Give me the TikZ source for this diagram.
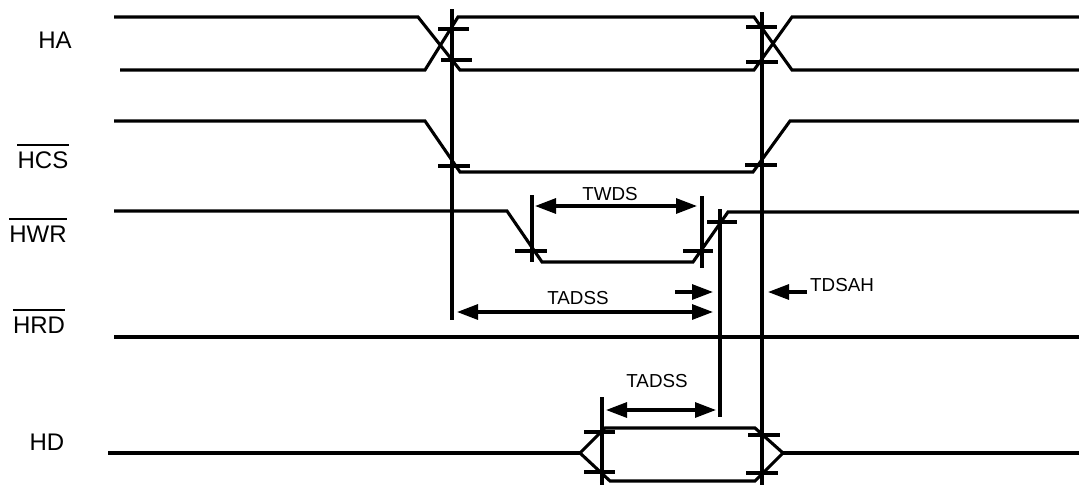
\documentclass[tikz,border=0pt]{standalone}
\usepackage{fontspec}
\setmainfont{Liberation Sans}
\usetikzlibrary{arrows.meta}
\begin{document}
\begin{tikzpicture}[x=1pt,y=-1pt,
  sig/.style={line width=3.1pt, line join=miter},
  tk/.style={line width=3.1pt},
  dimboth/.style={line width=3.1pt, {Triangle[length=21pt,width=15pt]}-{Triangle[length=21pt,width=15pt]}},
  dimone/.style={line width=3.1pt, -{Triangle[length=21pt,width=15pt]}},
  lbl/.style={font=\fontsize{24}{28}\selectfont, inner sep=0pt},
  tlbl/.style={font=\fontsize{18.8}{22}\selectfont, inner sep=0pt},
  ovl/.style={line width=2pt}
]
\useasboundingbox (0,0) rectangle (1079,485);

% signal names
\node[lbl] (ha) at (55,40) {HA};
\node[lbl] (hcs) at (43,160) {HCS};
\node[lbl] (hwr) at (38,234) {HWR};
\node[lbl] (hrd) at (39,325) {HRD};
\node[lbl] (hd) at (47,442) {HD};
\foreach \n in {hcs,hwr,hrd}
  \draw[ovl] ([yshift=6.5pt]\n.north west) -- ([yshift=6.5pt]\n.north east);

% HA
\draw[sig] (114,17) -- (418,17) -- (460,70) -- (754,70) -- (792,17) -- (1079,17);
\draw[sig] (120,70) -- (425,70) -- (458,17) -- (754,17) -- (792,70) -- (1079,70);
% HCS
\draw[sig] (114,121) -- (425,121) -- (460,172) -- (753,172) -- (790,121) -- (1079,121);
% HWR
\draw[sig] (114,211) -- (507,211) -- (542,262) -- (693,262) -- (728,212) -- (1079,212);
% HRD
\draw[sig] (114,337) -- (1079,337);
% HD
\draw[sig] (108,453) -- (580,453);
\draw[sig] (580,453) -- (605,428) -- (755,428) -- (783,453) -- (755,481) -- (610,481) -- cycle;
\draw[sig] (783,453) -- (1079,453);

% reference verticals
\draw[tk] (452,9) -- (452,320);
\draw[tk] (762,12) -- (762,485);
\draw[tk] (532,195) -- (532,262);
\draw[tk] (702,196) -- (702,268);
\draw[tk] (720,209) -- (720,417);
\draw[tk] (602,397) -- (602,485);

% ticks
\draw[tk] (438,29) -- (469,29);
\draw[tk] (441,60) -- (472,60);
\draw[tk] (746,27) -- (777,27);
\draw[tk] (746,62) -- (778,62);
\draw[tk] (438,166) -- (470,166);
\draw[tk] (745,165) -- (777,165);
\draw[tk] (515,251) -- (547,251);
\draw[tk] (683,251) -- (713,251);
\draw[tk] (707,222) -- (737,222);
\draw[tk] (584,432) -- (615,432);
\draw[tk] (584,472) -- (615,472);
\draw[tk] (748,435) -- (780,435);
\draw[tk] (746,473) -- (778,473);

% dimension arrows
\draw[dimboth] (535,206) -- (697,206);
\node[tlbl] (twds) at (610,194) {TWDS};
\draw[dimboth] (457,312) -- (713,312);
\node[tlbl] (tadss1) at (578,298) {TADSS};
\draw[dimone] (675,292) -- (713,292);
\draw[dimone] (807,292) -- (768,292);
\node[tlbl, anchor=west] (tdsah) at (810,285) {TDSAH};
\draw[dimboth] (606,410) -- (716,410);
\node[tlbl] (tadss2) at (657,381) {TADSS};
\end{tikzpicture}
\end{document}
